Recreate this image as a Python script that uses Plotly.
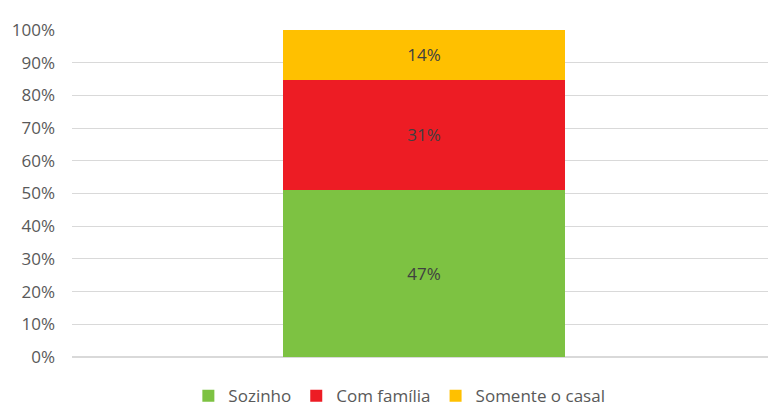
import plotly.graph_objects as go

# one category, three groups (raw shares as printed on the chart)
category = [""]
groups = ["Sozinho", "Com família", "Somente o casal"]
values = [47, 31, 14]
colors = ["#7DC242", "#ED1C24", "#FFC000"]

fig = go.Figure()
for name, val, col in zip(groups, values, colors):
    fig.add_trace(go.Bar(
        x=category, y=[val], name=name,
        marker=dict(color=col, line=dict(width=0)),
        text=[f"{val}%"], texttemplate="%{text}",
        textposition="inside", insidetextanchor="middle",
        textfont=dict(color="#404040", size=17),
    ))

# page body has an 8px margin, so the figure is a bit smaller than the window
fig.update_layout(
    barmode="stack", barnorm="percent", bargap=0.6,
    width=768, height=401,
    margin=dict(l=64, r=0, t=22, b=52, autoexpand=False),
    plot_bgcolor="white", paper_bgcolor="white",
    font=dict(family="Open Sans, Liberation Sans, sans-serif", color="#595959", size=17),
    legend=dict(orientation="h", x=0.465, xanchor="center", y=-0.12, yanchor="middle",
                font=dict(size=17), traceorder="normal", itemwidth=30),
    showlegend=True,
)
fig.update_yaxes(range=[0, 100], dtick=10, ticksuffix="%", showgrid=True,
                 gridcolor="#D9D9D9", gridwidth=1, zeroline=True, zerolinecolor="#D9D9D9",
                 tickfont=dict(size=17, color="#595959"), ticklen=0, ticks="",
                 ticklabelstandoff=16, automargin=False)
fig.update_xaxes(showticklabels=False, showgrid=False, zeroline=False, automargin=False)

fig.write_html("out.html")
